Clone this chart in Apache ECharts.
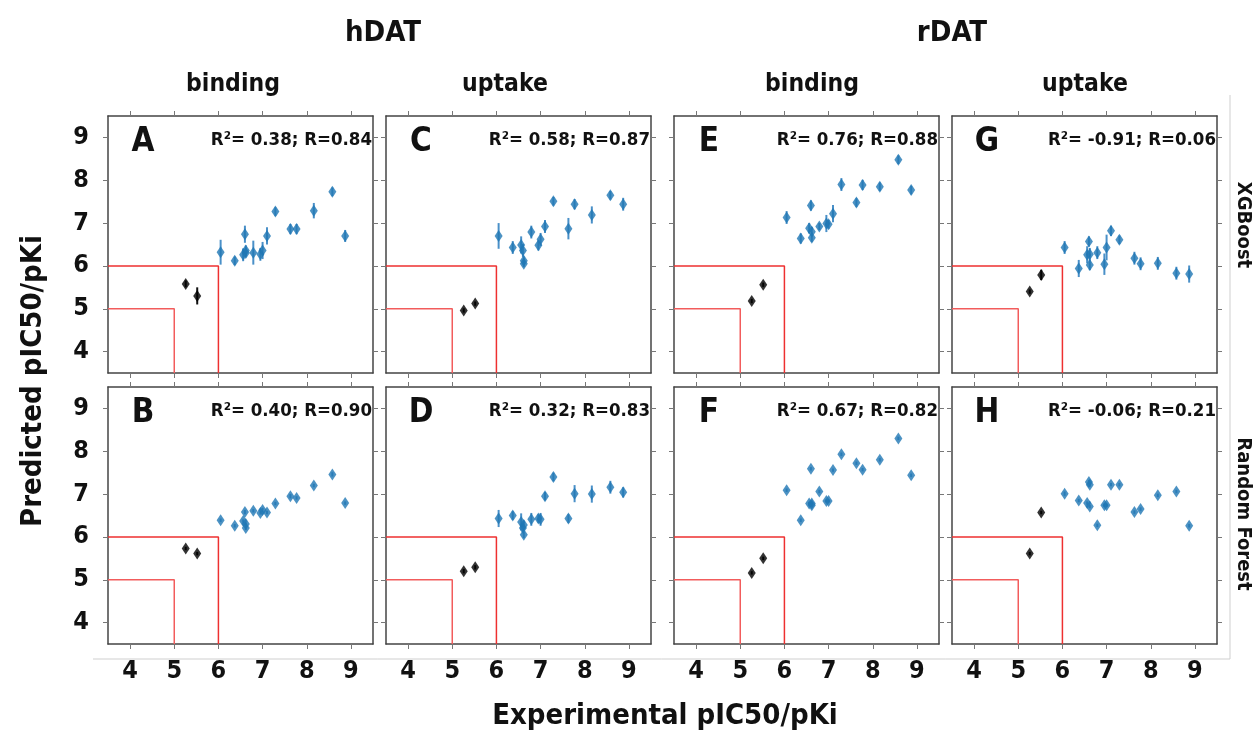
<!DOCTYPE html>
<html><head><meta charset="utf-8">
<script src="https://cdn.jsdelivr.net/npm/echarts@6/dist/echarts.min.js"></script>
<style>html,body{margin:0;padding:0;background:#fff}#c{width:1259px;height:734px}</style>
</head><body><div id="c"></div>
<script>
// ---------------- DATA ----------------
const axisTicks = [4, 5, 6, 7, 8, 9];
const thresholds = [5, 6];
const expBlue  = [6.05, 6.37, 6.56, 6.60, 6.62, 6.62, 6.79, 6.95, 7.00, 7.10, 7.29, 7.63, 7.77, 8.16, 8.58, 8.87];
const expBlack = [5.26, 5.52];

const columns = ['hDAT', 'rDAT'];
const subColumns = ['binding', 'uptake', 'binding', 'uptake'];
const rows = ['XGBoost', 'Random Forest'];

// hDAT binding, XGBoost (A)
const predA   = [6.32, 6.12, 6.26, 6.74, 6.36, 6.30, 6.31, 6.27, 6.36, 6.70, 7.27, 6.86, 6.86, 7.29, 7.73, 6.70];
const errA    = [0.29, 0.10, 0.15, 0.20, 0.12, 0.10, 0.28, 0.15, 0.20, 0.20, 0.10, 0.12, 0.12, 0.18, 0.10, 0.14];
const blkA    = [5.58, 5.30];
const blkErrA = [0.08, 0.20];
// hDAT binding, Random Forest (B)
const predB   = [6.39, 6.26, 6.37, 6.58, 6.21, 6.30, 6.61, 6.56, 6.63, 6.57, 6.78, 6.95, 6.91, 7.20, 7.46, 6.79];
const errB    = [0.04, 0.04, 0.04, 0.05, 0.05, 0.04, 0.04, 0.04, 0.05, 0.04, 0.04, 0.05, 0.04, 0.04, 0.05, 0.04];
const blkB    = [5.73, 5.61];
const blkErrB = [0.04, 0.04];
// hDAT uptake, XGBoost (C)
const predC   = [6.70, 6.43, 6.49, 6.36, 6.12, 6.05, 6.79, 6.48, 6.62, 6.92, 7.51, 6.87, 7.44, 7.19, 7.65, 7.44];
const errC    = [0.30, 0.15, 0.20, 0.15, 0.10, 0.08, 0.15, 0.12, 0.15, 0.15, 0.10, 0.25, 0.12, 0.20, 0.10, 0.15];
const blkC    = [4.96, 5.12];
const blkErrC = [0.05, 0.05];
// hDAT uptake, Random Forest (D)
const predD   = [6.43, 6.50, 6.35, 6.21, 6.05, 6.28, 6.41, 6.43, 6.41, 6.95, 7.40, 6.43, 7.01, 7.00, 7.16, 7.04];
const errD    = [0.20, 0.10, 0.20, 0.10, 0.08, 0.10, 0.15, 0.10, 0.15, 0.10, 0.10, 0.10, 0.20, 0.20, 0.15, 0.12];
const blkD    = [5.20, 5.29];
const blkErrD = [0.05, 0.05];
// rDAT binding, XGBoost (E)
const predE   = [7.13, 6.64, 6.88, 7.41, 6.80, 6.66, 6.92, 6.99, 6.97, 7.22, 7.90, 7.48, 7.89, 7.85, 8.48, 7.77];
const errE    = [0.15, 0.12, 0.12, 0.12, 0.10, 0.10, 0.08, 0.20, 0.10, 0.20, 0.15, 0.10, 0.12, 0.10, 0.10, 0.10];
const blkE    = [5.18, 5.56];
const blkErrE = [0.05, 0.05];
// rDAT binding, Random Forest (F)
const predF   = [7.09, 6.39, 6.78, 7.59, 6.74, 6.78, 7.06, 6.84, 6.84, 7.56, 7.93, 7.72, 7.57, 7.80, 8.30, 7.44];
const errF    = [0.04, 0.04, 0.04, 0.04, 0.04, 0.04, 0.04, 0.04, 0.04, 0.04, 0.04, 0.04, 0.04, 0.04, 0.04, 0.04];
const blkF    = [5.16, 5.50];
const blkErrF = [0.04, 0.04];
// rDAT uptake, XGBoost (G)
const predG   = [6.43, 5.94, 6.26, 6.57, 6.27, 6.02, 6.31, 6.04, 6.43, 6.82, 6.61, 6.18, 6.05, 6.06, 5.83, 5.81];
const errG    = [0.15, 0.20, 0.20, 0.12, 0.15, 0.12, 0.15, 0.25, 0.30, 0.12, 0.10, 0.15, 0.15, 0.15, 0.15, 0.20];
const blkG    = [5.40, 5.79];
const blkErrG = [0.05, 0.12];
// rDAT uptake, Random Forest (H)
const predH   = [7.01, 6.85, 6.79, 7.28, 7.22, 6.71, 6.27, 6.74, 6.74, 7.22, 7.22, 6.58, 6.65, 6.97, 7.06, 6.26];
const errH    = [0.05, 0.04, 0.04, 0.05, 0.05, 0.04, 0.04, 0.04, 0.04, 0.04, 0.04, 0.04, 0.04, 0.04, 0.04, 0.04];
const blkH    = [5.61, 6.57];
const blkErrH = [0.04, 0.04];

const panelLetters = ['A', 'B', 'C', 'D', 'E', 'F', 'G', 'H'];
const panelR2 = ['0.38', '0.40', '0.58', '0.32', '0.76', '0.67', '-0.91', '-0.06'];
const panelR  = ['0.84', '0.90', '0.87', '0.83', '0.88', '0.82', '0.06', '0.21'];

const panelPred   = [predA, predB, predC, predD, predE, predF, predG, predH];
const panelErr    = [errA, errB, errC, errD, errE, errF, errG, errH];
const panelBlk    = [blkA, blkB, blkC, blkD, blkE, blkF, blkG, blkH];
const panelBlkErr = [blkErrA, blkErrB, blkErrC, blkErrD, blkErrE, blkErrF, blkErrG, blkErrH];

// ---------------- LAYOUT / STYLE ----------------
const FONT = "'Liberation Sans Narrow','Arial Narrow','DejaVu Sans Condensed','Roboto Condensed','Liberation Sans',Arial,sans-serif";
const colLeft = [108, 386, 674, 952];
const rowTop = [116, 387];
const GW = 265, GH = 257;
const AX_MIN = 3.5, AX_MAX = 9.5;
const BLUE = '#1f77b4', BLUE_ERR = '#4a90c8';

const grids = [], xAxes = [], yAxes = [], series = [], graphics = [];

function axisBase(extra) {
  return Object.assign({
    type: 'value', min: AX_MIN, max: AX_MAX,
    axisLine: { show: true, onZero: false, lineStyle: { color: '#444', width: 1.5 } },
    axisTick: { show: true, inside: false, length: 5, customValues: axisTicks, lineStyle: { color: '#777', width: 1 } },
    splitLine: { show: false }
  }, extra);
}
function labelStyle(show, margin) {
  return { show: show, customValues: axisTicks, margin: margin, fontSize: 25, fontWeight: 'bold', color: '#111', fontFamily: FONT };
}
function errRender(color) {
  return function (params, api) {
    const x = api.value(0), y = api.value(1), e = api.value(2);
    const p1 = api.coord([x, y - e]), p2 = api.coord([x, y + e]);
    return { type: 'line', shape: { x1: p1[0], y1: p1[1], x2: p2[0], y2: p2[1] }, style: { stroke: color, lineWidth: 2 } };
  };
}
function txt(text, x, y, size, align, vAlign, rot) {
  return {
    type: 'text', x: x, y: y, rotation: rot || 0, z: 100,
    style: { text: text, x: 0, y: 0, fill: '#111', fontSize: size, fontWeight: 'bold', fontFamily: FONT,
      align: align, textAlign: align, verticalAlign: vAlign, textVerticalAlign: vAlign }
  };
}

let p = 0;
for (let c = 0; c < 4; c++) {
  for (let r = 0; r < 2; r++) {
    const gi = p;
    const L = colLeft[c], T = rowTop[r];
    grids.push({ left: L, top: T, width: GW, height: GH, outerBoundsMode: 'none', containLabel: false });
    xAxes.push(axisBase({ gridIndex: gi, position: 'bottom', axisLabel: labelStyle(r === 1, 15) }));
    xAxes.push(axisBase({ gridIndex: gi, position: 'top', axisLabel: { show: false } }));
    yAxes.push(axisBase({ gridIndex: gi, position: 'left', axisLabel: labelStyle(c === 0, 19) }));
    yAxes.push(axisBase({ gridIndex: gi, position: 'right', axisLabel: { show: false } }));
    const xi = gi * 2, yi = gi * 2;

    // threshold boxes
    thresholds.forEach(function (t, k) {
      series.push({ type: 'line', xAxisIndex: xi, yAxisIndex: yi, symbol: 'none', silent: true, z: 1,
        lineStyle: { color: k === 0 ? '#f25c5c' : '#ee3030', width: 1.5 },
        data: [[AX_MIN, t], [t, t], [t, AX_MIN]] });
    });

    const pred = panelPred[p], err = panelErr[p], blk = panelBlk[p], blkErr = panelBlkErr[p];
    const blueData = expBlue.map(function (x, i) { return [x, pred[i], err[i]]; });
    const blackData = expBlack.map(function (x, i) { return [x, blk[i], blkErr[i]]; });

    series.push({ type: 'custom', xAxisIndex: xi, yAxisIndex: yi, z: 2, silent: true,
      encode: { x: 0, y: 1 }, renderItem: errRender(BLUE_ERR), data: blueData });
    series.push({ type: 'custom', xAxisIndex: xi, yAxisIndex: yi, z: 2, silent: true,
      encode: { x: 0, y: 1 }, renderItem: errRender('#111'), data: blackData });
    series.push({ type: 'scatter', xAxisIndex: xi, yAxisIndex: yi, z: 3, symbol: 'diamond', symbolSize: [8, 12],
      itemStyle: { color: BLUE }, data: blueData });
    series.push({ type: 'scatter', xAxisIndex: xi, yAxisIndex: yi, z: 3, symbol: 'diamond', symbolSize: [8, 12],
      itemStyle: { color: '#000' }, data: blackData });

    graphics.push(txt(panelLetters[p], L + 35, T + 26, 33, 'center', 'middle'));
    graphics.push(txt('R\u00b2= ' + panelR2[p] + '; R=' + panelR[p], L + GW - 1, T + 24, 18.5, 'right', 'middle'));
    p++;
  }
}

// titles
graphics.push(txt(columns[0], 383, 33, 29, 'center', 'middle'));
graphics.push(txt(columns[1], 952, 33, 29, 'center', 'middle'));
const subX = [233, 505, 812, 1085];
subColumns.forEach(function (s, i) { graphics.push(txt(s, subX[i], 85, 24.5, 'center', 'middle')); });
graphics.push(txt(rows[0], 1243, 225, 20, 'center', 'middle', -Math.PI / 2));
graphics.push(txt(rows[1], 1243, 514, 20, 'center', 'middle', -Math.PI / 2));
graphics.push(txt('Predicted pIC50/pKi', 33, 381, 29, 'center', 'middle', Math.PI / 2));
graphics.push(txt('Experimental pIC50/pKi', 665, 716, 29, 'center', 'middle'));
// faint figure frame
graphics.push({ type: 'line', z: 0, shape: { x1: 93, y1: 659, x2: 1230, y2: 659 }, style: { stroke: '#cfcfcf', lineWidth: 1 } });
graphics.push({ type: 'line', z: 0, shape: { x1: 1230, y1: 95, x2: 1230, y2: 659 }, style: { stroke: '#cfcfcf', lineWidth: 1 } });

const chart = echarts.init(document.getElementById('c'), null, { renderer: 'canvas' });
chart.setOption({
  animation: false,
  backgroundColor: '#fff',
  grid: grids, xAxis: xAxes, yAxis: yAxes, series: series, graphic: graphics
});
</script></body></html>
